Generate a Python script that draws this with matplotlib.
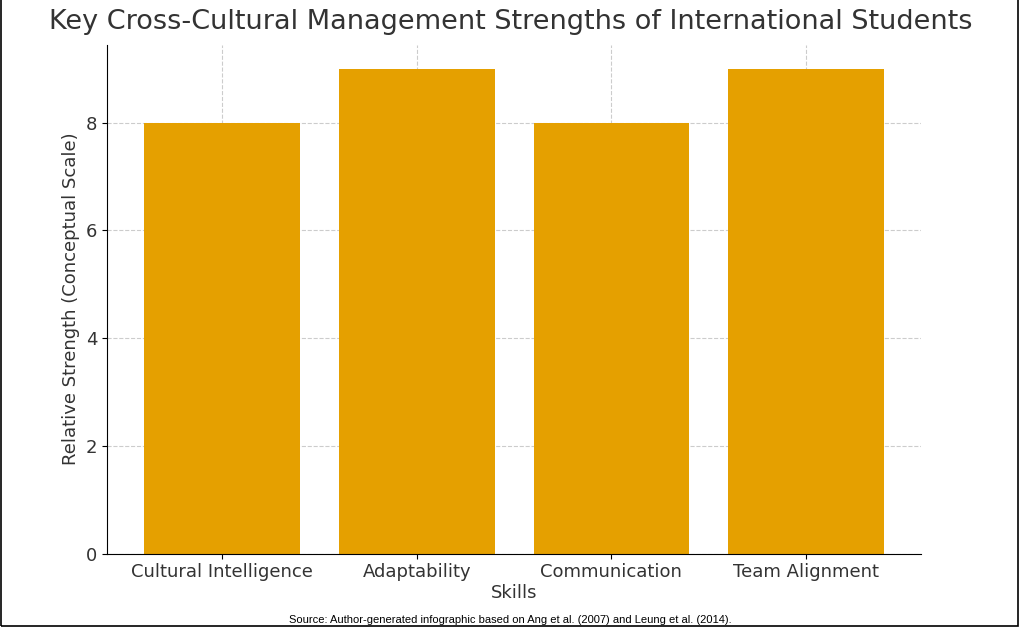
import matplotlib.pyplot as plt
from matplotlib.patches import Rectangle

skills = ["Cultural Intelligence", "Adaptability", "Communication", "Team Alignment"]
strength = [8, 9, 8, 9]

fig = plt.figure(figsize=(10.21, 6.27), dpi=100)
ax = fig.add_axes([0.105, 0.117, 0.797, 0.812])

ax.bar(skills, strength, color="#E5A000", width=0.8, zorder=2)
ax.grid(True, linestyle="--", color="#cccccc", linewidth=0.8, zorder=0)
ax.spines["top"].set_visible(False)
ax.spines["right"].set_visible(False)
ax.set_ylim(0, 9.45)
ax.set_yticks([0, 2, 4, 6, 8])
ax.tick_params(labelsize=13)
ax.set_xlabel("Skills", fontsize=13, labelpad=2, color="#333333")
ax.set_ylabel("Relative Strength (Conceptual Scale)", fontsize=13, color="#333333")
for lab in ax.get_xticklabels() + ax.get_yticklabels():
    lab.set_color("#333333")
fig.text(0.5, 0.985, "Key Cross-Cultural Management Strengths of International Students",
         ha="center", va="top", fontsize=19.5, color="#333333")
fig.text(0.5, 0.003, "Source: Author-generated infographic based on Ang et al. (2007) and Leung et al. (2014).",
         ha="center", va="bottom", fontsize=8, family="Liberation Sans")
fig.patches.append(Rectangle((0.0005, 0.002), 0.997, 1.1, transform=fig.transFigure,
                             fill=False, edgecolor="black", linewidth=1.2))
fig.savefig("out.png", dpi=100)
